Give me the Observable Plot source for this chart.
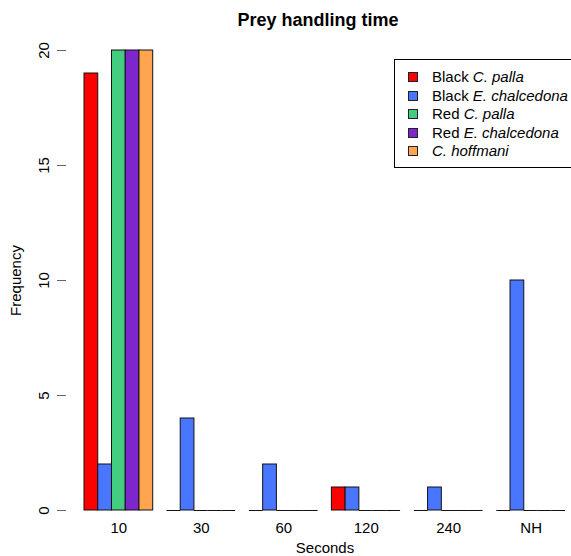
<!DOCTYPE html>
<html>
<head>
<meta charset="utf-8">
<script src="https://cdn.jsdelivr.net/npm/d3@7"></script>
<script src="https://cdn.jsdelivr.net/npm/@observablehq/plot@0.6"></script>
<style>
  html, body { margin: 0; padding: 0; background: #fff; }
  #wrap { position: relative; width: 571px; height: 556px; overflow: hidden; font-family: "Liberation Sans", Arial, sans-serif; }
  #title { height: 22px; padding-top: 10px; line-height: 21px; font-size: 18px; font-weight: bold; text-align: center; width: 504px; margin-left: 66px; }
  #chart svg { overflow: visible; }
  #legend { position: absolute; left: 394px; top: 59px; width: 200px; height: 107px; border: 1px solid #000; background: #fff; font-size: 15px; }
  #legend .row { position: absolute; left: 0; height: 18px; line-height: 18px; white-space: nowrap; }
  #legend .sw { position: absolute; left: 13px; top: 4px; width: 8px; height: 8px; border: 1px solid #222; }
  #legend .lab { position: absolute; left: 37px; top: 0; }
</style>
</head>
<body>
<div id="wrap">
  <div id="title">Prey handling time</div>
  <div id="chart"></div>
  <div id="legend"></div>
</div>
<script>
const groups = ["10", "30", "60", "120", "240", "NH"];
const series = ["Black C. palla", "Black E. chalcedona", "Red C. palla", "Red E. chalcedona", "C. hoffmani"];
const legendHtml = ["Black <i>C. palla</i>", "Black <i>E. chalcedona</i>", "Red <i>C. palla</i>", "Red <i>E. chalcedona</i>", "<i>C. hoffmani</i>"];
const colors = ["#FF0000", "#4876FF", "#43CD80", "#7D26CD", "#FFA54F"];
const blackCpalla = [19, 0, 0, 1, 0, 0];
const blackEchalcedona = [2, 4, 2, 1, 1, 10];
const redCpalla = [20, 0, 0, 0, 0, 0];
const redEchalcedona = [20, 0, 0, 0, 0, 0];
const cHoffmani = [20, 0, 0, 0, 0, 0];
const yTicks = [0, 5, 10, 15, 20];

const seriesValues = [blackCpalla, blackEchalcedona, redCpalla, redEchalcedona, cHoffmani];
const rows = [];
series.forEach((s, i) => groups.forEach((g, j) => rows.push({group: g, series: s, value: seriesValues[i][j]})));

const chart = Plot.plot({
  width: 571,
  height: 524,
  marginTop: 18,
  marginBottom: 46,
  marginLeft: 84,
  marginRight: 6,
  style: {fontSize: "15px", fontFamily: "'Liberation Sans', Arial, sans-serif", background: "white", color: "black"},
  fx: {domain: groups, paddingInner: 1/6, paddingOuter: 0, round: false},
  x: {domain: series, padding: 0, round: false, axis: null},
  y: {domain: [0, 20]},
  color: {domain: series, range: colors},
  marks: [
    Plot.barY(rows.filter(d => d.value > 0), {fx: "group", x: "series", y: "value", fill: "series", stroke: "#111", strokeWidth: 1}),
    Plot.tickY(rows.filter(d => d.value === 0), {fx: "group", x: "series", y: 0, stroke: "#111", strokeWidth: 1}),
    Plot.axisY({ticks: yTicks, tickSize: 9, tickPadding: 9, tickRotate: -90, dx: -18, label: "Frequency", labelAnchor: "center", labelArrow: "none", labelOffset: 74, line: true, stroke: "#666"}),
    Plot.axisFx({anchor: "bottom", tickSize: 0, tickPadding: 12, label: "Seconds", labelAnchor: "center", labelArrow: "none", labelOffset: 42})
  ]
});
document.getElementById("chart").appendChild(chart);

const legend = document.getElementById("legend");
series.forEach((s, i) => {
  const row = document.createElement("div");
  row.className = "row";
  row.style.top = (8 + i * 18.5) + "px";
  row.innerHTML = `<span class="sw" style="background:${colors[i]}"></span><span class="lab">${legendHtml[i]}</span>`;
  legend.appendChild(row);
});
</script>
</body>
</html>
